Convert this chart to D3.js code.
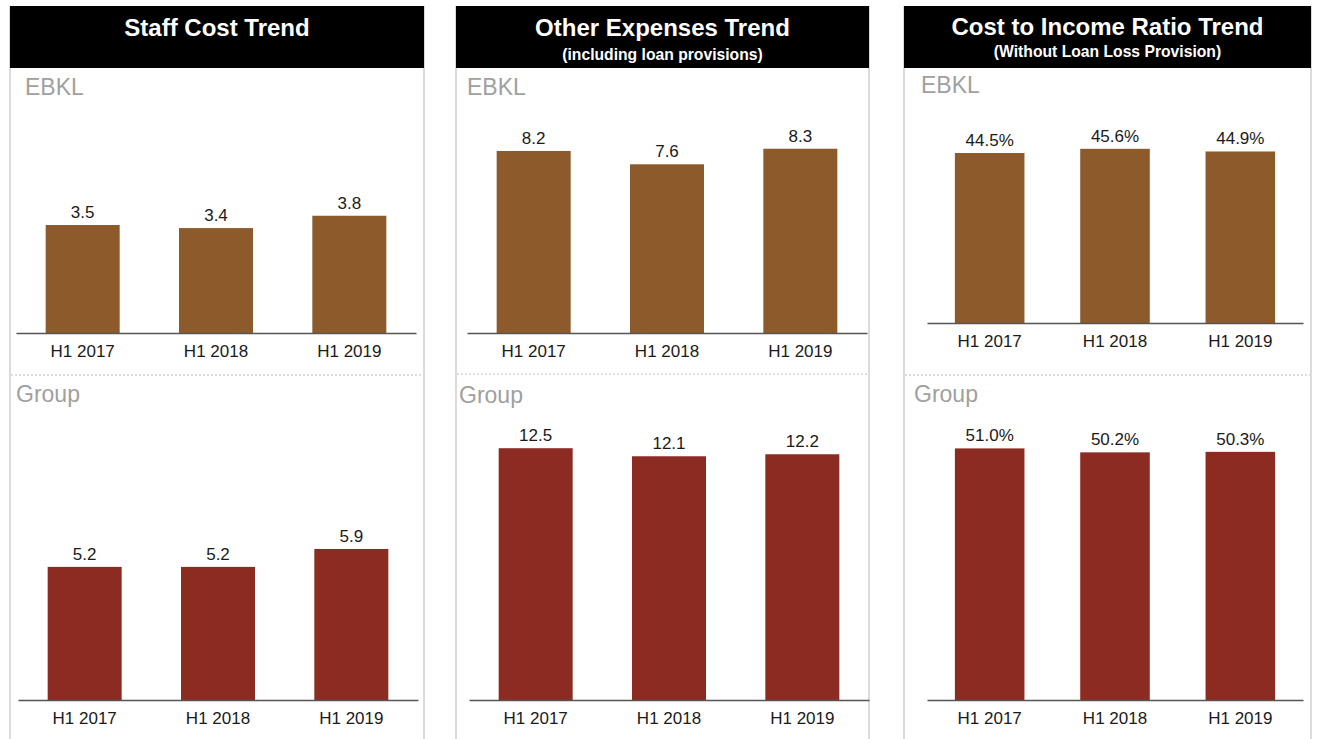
<!DOCTYPE html>
<html>
<head>
<meta charset="utf-8">
<script src="https://cdn.jsdelivr.net/npm/d3@7"></script>
<style>
  html, body { margin: 0; padding: 0; background: #ffffff; }
  svg { display: block; font-family: "Liberation Sans", Arial, Helvetica, sans-serif; }
</style>
</head>
<body>
<svg id="chart" width="1317" height="739"></svg>
<script>
// Half-year periods shown on every chart
const categories = ["H1 2017", "H1 2018", "H1 2019"];

// Staff cost (EBKL and Group)
const staffEbkl = [3.5, 3.4, 3.8];
const staffGroup = [5.2, 5.2, 5.9];

// Other expenses, including loan provisions
const otherEbkl = [8.2, 7.6, 8.3];
const otherGroup = [12.5, 12.1, 12.2];

// Cost to income ratio (%), without loan loss provision
const ratioEbkl = [44.5, 45.6, 44.9];
const ratioGroup = [51.0, 50.2, 50.3];

// Panel headings
const titles = ["Staff Cost Trend", "Other Expenses Trend", "Cost to Income Ratio Trend"];
const subtitles = ["", "(including loan provisions)", "(Without Loan Loss Provision)"];
const sectionLabels = ["EBKL", "Group"];

// Value-axis maxima for each small chart [EBKL, Group]
const axisMax = [[7, 10], [10, 14], [50, 60]];

const seriesByPanel = [[staffEbkl, staffGroup], [otherEbkl, otherGroup], [ratioEbkl, ratioGroup]];
const formats = [d3.format(".1f"), d3.format(".1f"), v => d3.format(".1f")(v) + "%"];

// Layout of the three panels
const panels = [
  { x0: 10, x1: 424, title: 36, sub: 60,
    label: [[25, 95], [16, 402]],
    axisX: [[16, 416], [18, 418]], base: [333, 700], top: [117, 444], sep: 375 },
  { x0: 456, x1: 869, title: 36, sub: 60,
    label: [[467, 95], [459, 403]],
    axisX: [[467, 867], [469, 869]], base: [333, 700], top: [111, 418], sep: 374 },
  { x0: 904, x1: 1311, title: 35, sub: 57,
    label: [[921, 93], [914, 402]],
    axisX: [[927, 1303], [927, 1303]], base: [323, 700], top: [132, 404], sep: 375 }
];

const colors = ["#8c5a2b", "#8c2b21"];
const svg = d3.select("#chart");

panels.forEach((p, i) => {
  const g = svg.append("g");

  // panel frame
  g.append("line").attr("x1", p.x0).attr("x2", p.x0).attr("y1", 6).attr("y2", 739)
    .attr("stroke", "#cfcfcf").attr("stroke-width", 1.5);
  g.append("line").attr("x1", p.x1).attr("x2", p.x1).attr("y1", 6).attr("y2", 739)
    .attr("stroke", "#cfcfcf").attr("stroke-width", 1.5);

  // heading band
  g.append("rect").attr("x", p.x0).attr("y", 6).attr("width", p.x1 - p.x0).attr("height", 62)
    .attr("fill", "#000");
  const cx = (p.x0 + p.x1) / 2;
  g.append("text").attr("x", cx).attr("y", p.title).attr("text-anchor", "middle")
    .attr("fill", "#fff").attr("font-weight", "bold").attr("font-size", 24).text(titles[i]);
  if (subtitles[i]) {
    g.append("text").attr("x", cx).attr("y", p.sub).attr("text-anchor", "middle")
      .attr("fill", "#fff").attr("font-weight", "bold").attr("font-size", 15.7).text(subtitles[i]);
  }

  // dotted divider between EBKL and Group
  g.append("line").attr("x1", p.x0 + 1).attr("x2", p.x1 - 1).attr("y1", p.sep).attr("y2", p.sep)
    .attr("stroke", "#bdbdbd").attr("stroke-width", 1).attr("stroke-dasharray", "2,2");

  seriesByPanel[i].forEach((values, s) => {
    // section label
    g.append("text").attr("x", p.label[s][0]).attr("y", p.label[s][1])
      .attr("fill", "#a0a0a0").attr("font-size", 23).text(sectionLabels[s]);

    const x = d3.scaleBand().domain(categories).range(p.axisX[s])
      .paddingInner(0.445).paddingOuter(0.2225);
    const y = d3.scaleLinear().domain([0, axisMax[i][s]]).range([p.base[s], p.top[s]]);

    const data = categories.map((c, k) => ({ c, v: values[k] }));

    g.selectAll(null).data(data).enter().append("rect")
      .attr("x", d => x(d.c)).attr("width", x.bandwidth())
      .attr("y", d => y(d.v)).attr("height", d => y(0) - y(d.v))
      .attr("fill", colors[s]);

    g.selectAll(null).data(data).enter().append("text")
      .attr("x", d => x(d.c) + x.bandwidth() / 2).attr("y", d => y(d.v) - 7)
      .attr("text-anchor", "middle").attr("font-size", 17).attr("fill", "#1a1a1a")
      .text(d => formats[i](d.v));

    const axis = g.append("g").attr("transform", `translate(0,${p.base[s]})`)
      .call(d3.axisBottom(x).tickSize(0).tickSizeOuter(0).tickPadding(12));
    axis.select(".domain").attr("stroke", "#555").attr("stroke-width", 1.5);
    axis.selectAll("text").attr("font-size", 17).attr("fill", "#1a1a1a")
      .attr("font-family", "\"Liberation Sans\", Arial, sans-serif");
  });
});
</script>
</body>
</html>
